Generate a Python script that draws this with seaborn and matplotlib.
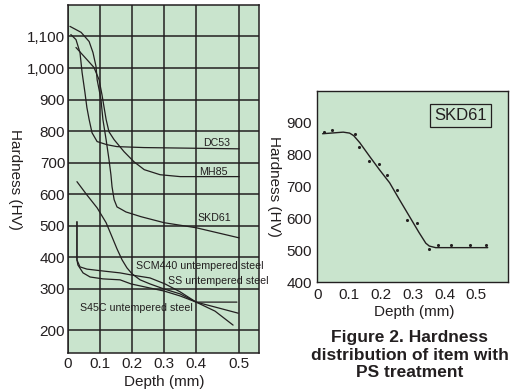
import numpy as np
import pandas as pd
import matplotlib
matplotlib.use("Agg")
import matplotlib.pyplot as plt
import seaborn as sns

# ---- left panel: hardness profiles ----
dc53_depth = [0.009, 0.025, 0.0375, 0.044, 0.053, 0.059, 0.066, 0.075, 0.091, 0.122, 0.153, 0.2375, 0.5]
dc53_hv = [1106, 1090, 1049, 986, 922, 875, 837, 795, 767, 757, 751, 748, 744]

mh85_depth = [0.025, 0.05, 0.081, 0.097, 0.106, 0.119, 0.128, 0.144, 0.175, 0.206, 0.238, 0.2875, 0.35, 0.5]
mh85_hv = [1065, 1037, 1002, 963, 916, 837, 798, 773, 735, 703, 678, 662, 656, 656]

skd61_depth = [0.006, 0.041, 0.066, 0.078, 0.0875, 0.091, 0.097, 0.103, 0.109, 0.119, 0.128,
               0.134, 0.1375, 0.144, 0.153, 0.169, 0.181, 0.228, 0.3, 0.4, 0.5]
skd61_hv = [1132, 1113, 1084, 1049, 1005, 963, 932, 900, 837, 773, 710,
            662, 624, 583, 560, 551, 544, 529, 510, 494, 462]

scm440_depth = [0.028, 0.028, 0.0375, 0.059, 0.109, 0.1625, 0.2, 0.256, 0.303, 0.35, 0.4, 0.444, 0.486]
scm440_hv = [513, 392, 370, 363, 357, 351, 344, 335, 316, 293, 268, 246, 212]

ss_depth = [0.028, 0.059, 0.091, 0.119, 0.1375, 0.153, 0.169, 0.184, 0.2, 0.225, 0.256, 0.3, 0.35, 0.4, 0.444, 0.498]
ss_hv = [640, 598, 557, 510, 465, 427, 392, 367, 348, 329, 316, 300, 288, 268, 256, 241]

s45c_depth = [0.028, 0.028, 0.031, 0.047, 0.069, 0.109, 0.1625, 0.197, 0.256, 0.3, 0.35, 0.4, 0.495]
s45c_hv = [513, 392, 376, 351, 338, 332, 329, 316, 303, 295, 283, 268, 268]

left_yticks = [200, 300, 400, 500, 600, 700, 800, 900, 1000, 1100]
left_yticklabels = ["200", "300", "400", "500", "600", "700", "800", "900", "1,000", "1,100"]
left_xticks = [0, 0.1, 0.2, 0.3, 0.4, 0.5]

# ---- right panel: SKD61 after PS treatment ----
ps_dot_depth = [0.02, 0.046, 0.117, 0.131, 0.1625, 0.194, 0.22, 0.249, 0.283, 0.313, 0.351, 0.381, 0.421, 0.481, 0.532]
ps_dot_hv = [873, 877, 866, 824, 779, 772, 737, 688, 596, 587, 503, 517, 517, 517, 516]
ps_fit_depth = [0.016, 0.081, 0.101, 0.114, 0.133, 0.164, 0.195, 0.227, 0.258, 0.289, 0.32, 0.341, 0.352, 0.372, 0.536]
ps_fit_hv = [866, 871, 868, 860, 838, 795, 753, 712, 659, 607, 555, 522, 513, 508, 508]

right_yticks = [400, 500, 600, 700, 800, 900]
right_xticks = [0, 0.1, 0.2, 0.3, 0.4, 0.5]

BG = "#c9e4cd"
INK = "#231f20"

sns.set_style("white")
plt.rcParams["font.family"] = ["Liberation Sans", "DejaVu Sans"]


# the printed chart stretches the last decade on each axis
def fwd_x(d):
    d = np.asarray(d, dtype=float)
    return np.where(d > 0.4, 0.4 + (d - 0.4) * 1.34, d)


def inv_x(u):
    u = np.asarray(u, dtype=float)
    return np.where(u > 0.4, 0.4 + (u - 0.4) / 1.34, u)


def fwd_y(v):
    v = np.asarray(v, dtype=float)
    return np.where(v < 300, 300 - (300 - v) * 1.3, v)


def inv_y(u):
    u = np.asarray(u, dtype=float)
    return np.where(u < 300, 300 - (300 - u) / 1.3, u)


fig = plt.figure(figsize=(5.15, 3.92), dpi=100)
ax = fig.add_axes([0.132, 0.0995, 0.371, 0.888])
ax2 = fig.add_axes([0.6165, 0.2806, 0.370, 0.487])

# ---- left panel ----
ax.set_facecolor(BG)
ax.set_xscale("function", functions=(fwd_x, inv_x))
ax.set_yscale("function", functions=(fwd_y, inv_y))

curves = [
    (dc53_depth, dc53_hv),
    (mh85_depth, mh85_hv),
    (skd61_depth, skd61_hv),
    (scm440_depth, scm440_hv),
    (ss_depth, ss_hv),
    (s45c_depth, s45c_hv),
]
for depth, hv in curves:
    df = pd.DataFrame({"depth": depth, "hv": hv})
    sns.lineplot(data=df, x="depth", y="hv", sort=False, estimator=None,
                 color=INK, lw=0.9, ax=ax, zorder=3)

ax.set_xlim(0, 0.5465)
ax.set_ylim(144, 1200)
ax.set_xticks(left_xticks)
ax.set_xticklabels(["0", "0.1", "0.2", "0.3", "0.4", "0.5"])
ax.set_yticks(left_yticks)
ax.set_yticklabels(left_yticklabels)
ax.minorticks_off()
ax.tick_params(length=0, labelsize=11, colors=INK, pad=3)
ax.tick_params(axis="y", pad=2)
ax.grid(True, color=INK, lw=1.1)
ax.set_axisbelow(True)
for s in ax.spines.values():
    s.set_color(INK)
    s.set_linewidth(1.1)

ax.set_xlabel("Depth (mm)", fontsize=11, color=INK, va="center")
ax.xaxis.set_label_coords(0.503, -0.083)
ax.set_ylabel("Hardness (HV)", fontsize=11, color=INK, rotation=-90, va="center")
ax.yaxis.set_label_coords(-0.277, 0.5)

lab = dict(fontsize=7.7, color=INK, va="center")
ax.text(0.447, 763, "DC53", ha="center", **lab)
ax.text(0.44, 671, "MH85", ha="center", **lab)
ax.text(0.442, 525, "SKD61", ha="center", **lab)
ax.text(0.2125, 373, "SCM440 untempered steel", ha="left", **lab)
ax.text(0.3125, 325, "SS untempered steel", ha="left", **lab)
ax.text(0.0375, 254, "S45C untempered steel", ha="left", **lab)

# ---- right panel ----
ax2.set_facecolor(BG)
fit = pd.DataFrame({"depth": ps_fit_depth, "hv": ps_fit_hv})
dots = pd.DataFrame({"depth": ps_dot_depth, "hv": ps_dot_hv})
sns.lineplot(data=fit, x="depth", y="hv", sort=False, estimator=None,
             color=INK, lw=1.0, ax=ax2)
sns.scatterplot(data=dots, x="depth", y="hv", color=INK, s=5, linewidth=0, ax=ax2)
ax2.set_xlim(0, 0.6)
ax2.set_ylim(400, 1000)
ax2.set_xticks(right_xticks)
ax2.set_xticklabels(["0", "0.1", "0.2", "0.3", "0.4", "0.5"])
ax2.set_yticks(right_yticks)
ax2.tick_params(direction="in", length=3, width=0.8, labelsize=11, colors=INK, pad=4)
for s in ax2.spines.values():
    s.set_color(INK)
    s.set_linewidth(1.0)
ax2.set_xlabel("Depth (mm)", fontsize=11, color=INK, va="center")
ax2.xaxis.set_label_coords(0.507, -0.157)
ax2.set_ylabel("Hardness (HV)", fontsize=11, color=INK, rotation=-90, va="center")
ax2.yaxis.set_label_coords(-0.228, 0.5)
ax2.text(0.45, 923, "SKD61", fontsize=12, color=INK, ha="center", va="center",
         bbox=dict(boxstyle="square,pad=0.25", fc=BG, ec=INK, lw=0.9))

fig.text(409.5 / 515, 1 - 355 / 392,
         "Figure 2. Hardness\ndistribution of item with\nPS treatment",
         ha="center", va="center", fontsize=12.5, fontweight="bold",
         color=INK, linespacing=1.2)

fig.savefig("out.png", dpi=100)
